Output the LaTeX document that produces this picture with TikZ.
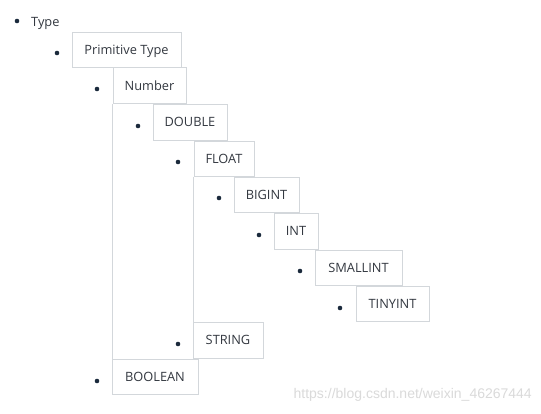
\documentclass[tikz,border=0pt]{standalone}
\usepackage{fontspec}
\setmainfont{Open Sans}
\newfontfamily\wmfont{Liberation Sans}
\definecolor{boxline}{HTML}{D3D7DB}
\definecolor{txt}{HTML}{333840}
\definecolor{dotc}{HTML}{1B2A3C}
\definecolor{wm}{HTML}{DADADA}
\begin{document}
\begin{tikzpicture}[x=1pt,y=-1pt,
  itembox/.style={draw=boxline, line width=1pt, text=txt, font=\fontsize{12.8}{14}\selectfont, inner sep=0pt, text height=10.3pt, text depth=1.3pt},
  dotn/.style={circle, fill=dotc, inner sep=0pt, minimum size=4.6pt},
  vline/.style={draw=boxline, line width=1pt}]
\useasboundingbox (0,0) rectangle (541,413);
\fill[white] (0,0) rectangle (541,413);
% boxes: center x, center y, width, height
\node[itembox, minimum width=109pt, minimum height=35pt] (prim) at (126.5,49.5) {Primitive Type};
\node[itembox, minimum width=73pt, minimum height=36pt] (num) at (149.5,85.5) {Number};
\node[itembox, minimum width=74pt, minimum height=36pt] (dbl) at (190,122) {DOUBLE};
\node[itembox, minimum width=60pt, minimum height=35pt] (flt) at (224,158.5) {FLOAT};
\node[itembox, minimum width=65pt, minimum height=35pt] (bigint) at (266.5,194.5) {BIGINT};
\node[itembox, minimum width=44pt, minimum height=36pt] (int) at (296,231) {INT};
\node[itembox, minimum width=87pt, minimum height=35pt] (smallint) at (358.5,267.5) {SMALLINT};
\node[itembox, minimum width=73pt, minimum height=35pt] (tinyint) at (392.5,303.5) {TINYINT};
\node[itembox, minimum width=70pt, minimum height=36pt] (str) at (228,340) {STRING};
\node[itembox, minimum width=86pt, minimum height=35pt] (bool) at (155,376.5) {BOOLEAN};
% vertical guide lines
\draw[vline] (num.south west) -- (bool.north west -| num.south west);
\draw[vline] (flt.south west) -- (str.north west -| flt.south west);
% top item
\node[text=txt, font=\fontsize{12.8}{14}\selectfont, anchor=west, inner sep=0pt, text height=10.3pt, text depth=1.3pt] (type) at (31,21.5) {Type};
% bullets
\node[dotn] (b0) at (17,21) {};
\node[dotn] (b1) at (57,53) {};
\node[dotn] (b2) at (97,89) {};
\node[dotn] (b3) at (138,126) {};
\node[dotn] (b4) at (178,162) {};
\node[dotn] (b5) at (219,198) {};
\node[dotn] (b6) at (259,235) {};
\node[dotn] (b7) at (300,271) {};
\node[dotn] (b8) at (340,308) {};
\node[dotn] (b9) at (178,344) {};
\node[dotn] (b10) at (97,381) {};
% watermark
\node[text=wm, font=\wmfont\fontsize{14}{16}\selectfont, anchor=east, inner sep=0pt] (wmk) at (532,395) {https://blog.csdn.net/weixin\_46267444};
\end{tikzpicture}
\end{document}
